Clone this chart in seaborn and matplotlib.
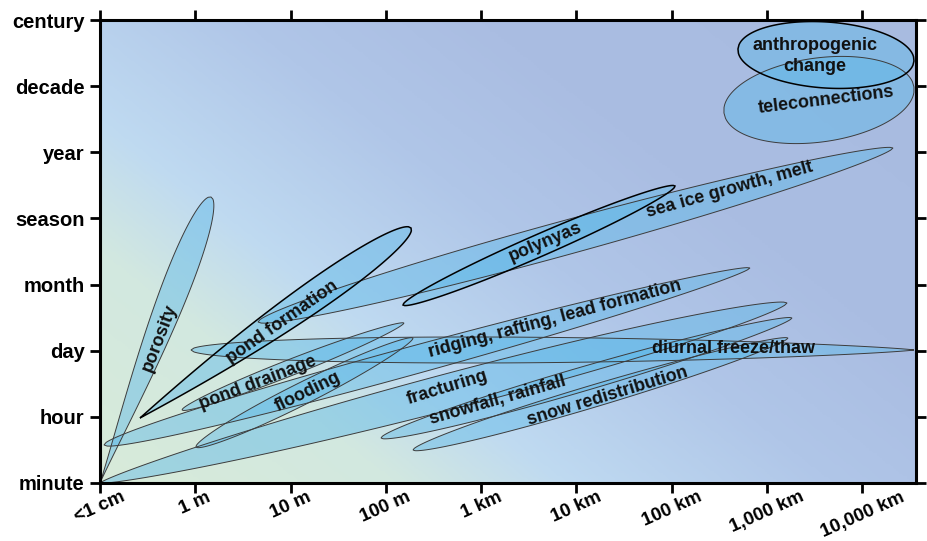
import numpy as np
import matplotlib
matplotlib.use("Agg")
import matplotlib.pyplot as plt
from matplotlib.colors import LinearSegmentedColormap
from matplotlib.patches import Polygon
import seaborn as sns

# axis categories
space_labels = ["<1 cm", "1 m", "10 m", "100 m", "1 km", "10 km", "100 km", "1,000 km", "10,000 km"]
time_labels = ["minute", "hour", "day", "month", "season", "year", "decade", "century"]

# processes: start / end of each envelope (x in space-category units, y in time-category units)
names = ["fracturing", "ridging", "sea ice", "diurnal", "snowfall", "snow redistribution",
         "flooding", "pond drainage", "pond formation", "polynyas", "porosity",
         "teleconnections", "anthropogenic"]
x_start = [0.000, 0.042, 1.658, 0.955, 2.949, 3.285, 1.007, 0.861, 0.420, 3.180, 0.000, 6.548, 6.695]
y_start = [0.000, 0.575, 2.434, 2.011, 0.680, 0.499, 0.544, 1.104, 0.983, 2.691, 0.000, 5.594, 6.562]
x_end = [7.210, 6.821, 8.322, 8.542, 7.262, 7.220, 3.285, 3.190, 3.264, 6.034, 1.165, 8.542, 8.542]
y_end = [2.722, 3.251, 5.065, 2.011, 2.495, 2.192, 2.192, 2.419, 3.855, 4.490, 4.324, 5.987, 6.380]

# label text and placement (data units) + rotation
label_text = ["fracturing", "ridging, rafting, lead formation", "sea ice growth, melt",
              "diurnal freeze/thaw", "snowfall, rainfall", "snow redistribution",
              "flooding", "pond drainage", "pond formation", "polynyas", "porosity",
              "teleconnections", "anthropogenic\nchange"]
label_x = [3.641, 4.775, 6.611, 6.643, 4.176, 5.321, 2.183, 1.658, 1.910, 4.670, 0.630, 7.619, 7.503]
label_y = [1.436, 2.479, 4.430, 2.026, 1.255, 1.315, 1.376, 1.512, 2.433, 3.638, 2.192, 5.790, 6.455]
label_rot = [17, 15, 15.5, 0, 16, 17, 26, 21, 35, 23, 69, 7, 0]

BG_T = [0.0, 0.21, 0.33, 0.52, 0.69, 1.0]
BG_C = ["#d8ebd9", "#d2e8e0", "#bfdaf1", "#b0c6e8", "#aabde2", "#a8bbe0"]

sns.set_style("ticks")
plt.rcParams["font.family"] = ["Liberation Sans", "DejaVu Sans"]
plt.rcParams["font.weight"] = "bold"

fig = plt.figure(figsize=(9.27, 5.41), dpi=100)
ax = fig.add_axes([100 / 927, 58 / 541, 816 / 927, 463 / 541])
xmax = 816 / 95.29
ax.set_xlim(0, xmax)
ax.set_ylim(0, 7)

# diagonal background gradient
gx, gy = np.meshgrid(np.linspace(0, 816, 300), np.linspace(0, 463, 180))
t = (0.616 * gx + 0.788 * gy) / 868.0
cmap = LinearSegmentedColormap.from_list("bg", list(zip(BG_T, BG_C)))
ax.imshow(t, cmap=cmap, vmin=0, vmax=1, extent=(0, xmax, 0, 7), origin="lower",
          aspect="auto", interpolation="bilinear", zorder=0)

# shape parameters: half width (px), tip exponents
half_w = [18, 14, 17, 13, 12, 11, 11, 8, 15, 11, 14, 42, 33]
tip_a = [0.7, 0.5, 0.55, 0.5, 0.55, 0.55, 0.55, 0.55, 1.0, 0.55, 1.2, 0.5, 0.5]
tip_b = [0.6, 0.6, 0.6, 0.8, 0.6, 0.6, 0.6, 0.6, 0.5, 0.55, 0.5, 0.5, 0.5]
dark = ["pond formation", "polynyas", "anthropogenic"]


def envelope(p1, p2, w, a, b, n=240):
    P1 = ax.transData.transform(p1)
    P2 = ax.transData.transform(p2)
    d = P2 - P1
    u = d / np.hypot(*d)
    nrm = np.array([-u[1], u[0]])
    s = np.linspace(0, 1, n)
    f = s ** a * (1 - s) ** b
    f = f / f.max() * w
    up = P1 + np.outer(s, d) + np.outer(f, nrm)
    lo = P1 + np.outer(s, d) - np.outer(f, nrm)
    pts = np.vstack([up, lo[::-1]])
    return ax.transData.inverted().transform(pts)


for i, nm in enumerate(names):
    pts = envelope((x_start[i], y_start[i]), (x_end[i], y_end[i]), half_w[i], tip_a[i], tip_b[i])
    ax.add_patch(Polygon(pts, closed=True, facecolor="#5bb8e8", alpha=0.45, lw=0, zorder=2))
    ec = "black" if nm in dark else "#3c3c3c"
    lw = 1.1 if nm in dark else 0.7
    ax.add_patch(Polygon(pts, closed=True, facecolor="none", edgecolor=ec, lw=lw, zorder=3))

for i in range(len(label_text)):
    ax.text(label_x[i], label_y[i], label_text[i], rotation=label_rot[i], ha="center", va="center",
            fontsize=13, fontweight="bold", color="#111111", linespacing=1.25, zorder=4)

ax.set_xticks(range(len(space_labels)))
ax.set_xticklabels(space_labels, rotation=24, ha="center", va="top", fontsize=13.5, fontweight="bold")
ax.set_yticks(range(len(time_labels)))
ax.set_yticklabels(time_labels, fontsize=14.5, fontweight="bold")
ax.tick_params(which="both", direction="out", length=7, width=2, top=True, right=True,
               labeltop=False, labelright=False, colors="black")
ax.tick_params(axis="x", pad=-3)
ax.tick_params(axis="y", pad=4)
for sp in ax.spines.values():
    sp.set_visible(True)
    sp.set_linewidth(2.2)
    sp.set_color("black")
    sp.set_zorder(5)

fig.savefig("out.png", dpi=100)
